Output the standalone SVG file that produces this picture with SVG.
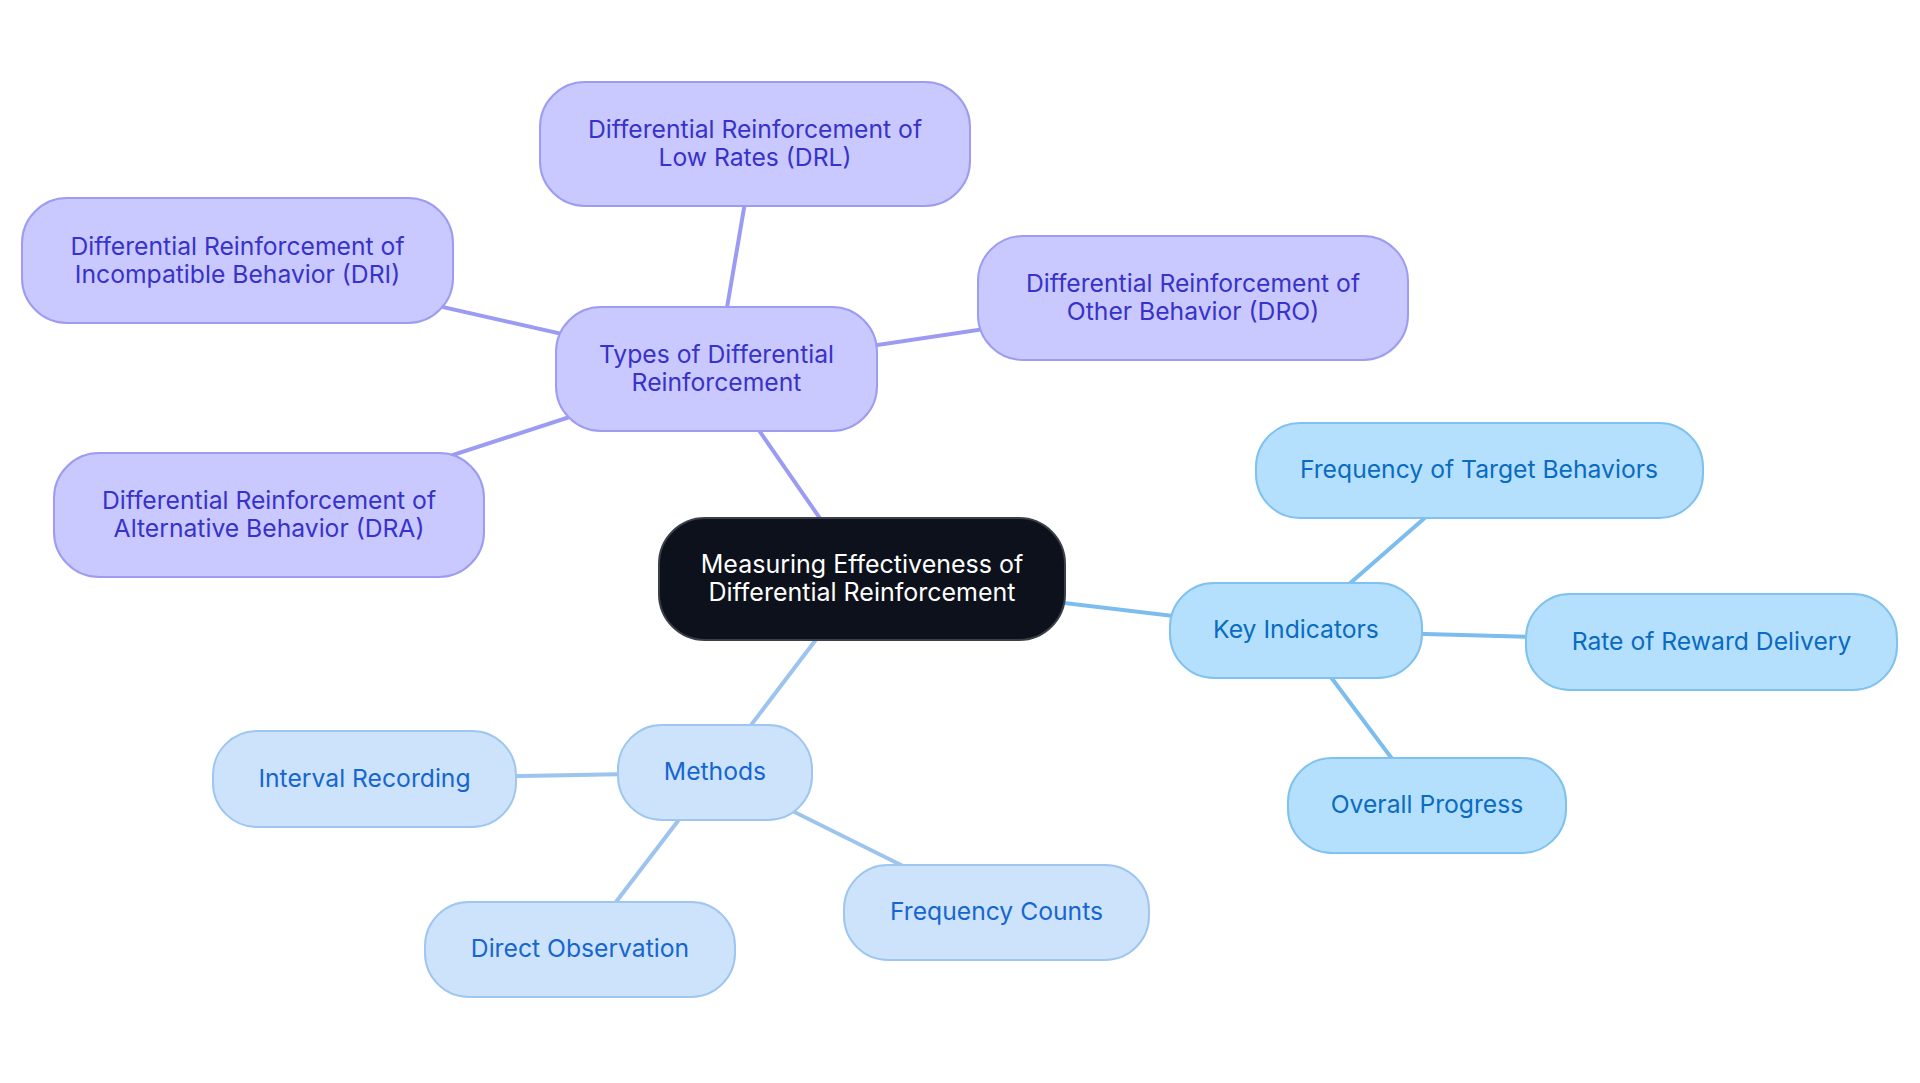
<svg xmlns="http://www.w3.org/2000/svg" width="1920" height="1083" viewBox="0 0 1920 1083">
<style>
text{font-family:Inter,"Noto Sans","Liberation Sans",sans-serif;font-size:24.7px;text-anchor:middle}
.root rect{fill:#0c111b;stroke:#3a3f48;stroke-width:2}
.root text{fill:#ffffff;font-size:25px}
.p rect{fill:#c9c9ff;stroke:#9d9cf2;stroke-width:2}
.p text{fill:#3832c9}
.k rect{fill:#b4e0fe;stroke:#7fc1ef;stroke-width:2}
.k text{fill:#0a6bc0}
.m rect{fill:#cde3fb;stroke:#9fc6f0;stroke-width:2}
.m text{fill:#1766d0}
#edges line{stroke-width:4;stroke-linecap:round}
.ep{stroke:#9b9bf3}
.ek{stroke:#7bbdef}
.em{stroke:#9cc4ef}
</style>
<rect width="1920" height="1083" fill="#ffffff"/>
<g id="edges">
<line class="ep" x1="862" y1="579" x2="716.5" y2="369"/>
<line class="ep" x1="716.5" y1="369" x2="755" y2="144"/>
<line class="ep" x1="716.5" y1="369" x2="237.5" y2="260.5"/>
<line class="ep" x1="716.5" y1="369" x2="1193" y2="298"/>
<line class="ep" x1="716.5" y1="369" x2="269" y2="515"/>
<line class="ek" x1="862" y1="579" x2="1296" y2="630.5"/>
<line class="ek" x1="1296" y1="630.5" x2="1479" y2="470.5"/>
<line class="ek" x1="1296" y1="630.5" x2="1711.5" y2="642"/>
<line class="ek" x1="1296" y1="630.5" x2="1427" y2="805.5"/>
<line class="em" x1="862" y1="579" x2="715" y2="772.5"/>
<line class="em" x1="715" y1="772.5" x2="364.5" y2="779"/>
<line class="em" x1="715" y1="772.5" x2="580" y2="949"/>
<line class="em" x1="715" y1="772.5" x2="996.5" y2="912.5"/>
</g>
<g id="root" class="root">
<rect x="659" y="518" width="406" height="122" rx="46"/>
<text x="862" y="573">Measuring Effectiveness of</text>
<text x="862" y="601">Differential Reinforcement</text>
</g>
<g id="types" class="p">
<rect x="556" y="307" width="321" height="124" rx="45"/>
<text x="716.5" y="363">Types of Differential</text>
<text x="716.5" y="391">Reinforcement</text>
</g>
<g id="drl" class="p">
<rect x="540" y="82" width="430" height="124" rx="45"/>
<text x="755" y="138">Differential Reinforcement of</text>
<text x="755" y="166">Low Rates (DRL)</text>
</g>
<g id="dri" class="p">
<rect x="22" y="198" width="431" height="125" rx="45"/>
<text x="237.5" y="254.5">Differential Reinforcement of</text>
<text x="237.5" y="282.5">Incompatible Behavior (DRI)</text>
</g>
<g id="dro" class="p">
<rect x="978" y="236" width="430" height="124" rx="45"/>
<text x="1193" y="292">Differential Reinforcement of</text>
<text x="1193" y="320">Other Behavior (DRO)</text>
</g>
<g id="dra" class="p">
<rect x="54" y="453" width="430" height="124" rx="45"/>
<text x="269" y="509">Differential Reinforcement of</text>
<text x="269" y="537">Alternative Behavior (DRA)</text>
</g>
<g id="key" class="k">
<rect x="1170" y="583" width="252" height="95" rx="44"/>
<text x="1296" y="638">Key Indicators</text>
</g>
<g id="freqtarget" class="k">
<rect x="1256" y="423" width="447" height="95" rx="44"/>
<text x="1479" y="478">Frequency of Target Behaviors</text>
</g>
<g id="rate" class="k">
<rect x="1526" y="594" width="371" height="96" rx="44"/>
<text x="1711.5" y="649.5">Rate of Reward Delivery</text>
</g>
<g id="overall" class="k">
<rect x="1288" y="758" width="278" height="95" rx="44"/>
<text x="1427" y="813">Overall Progress</text>
</g>
<g id="methods" class="m">
<rect x="618" y="725" width="194" height="95" rx="44"/>
<text x="715" y="780">Methods</text>
</g>
<g id="interval" class="m">
<rect x="213" y="731" width="303" height="96" rx="44"/>
<text x="364.5" y="786.5">Interval Recording</text>
</g>
<g id="direct" class="m">
<rect x="425" y="902" width="310" height="95" rx="44"/>
<text x="580" y="957">Direct Observation</text>
</g>
<g id="freqcounts" class="m">
<rect x="844" y="865" width="305" height="95" rx="44"/>
<text x="996.5" y="920">Frequency Counts</text>
</g>
</svg>
